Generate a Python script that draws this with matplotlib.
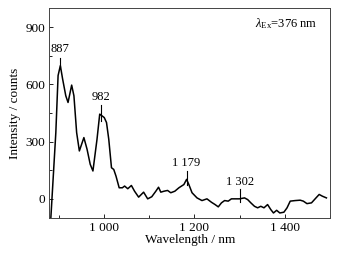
import matplotlib
matplotlib.use('Agg')
import matplotlib.pyplot as plt
from matplotlib.ticker import MultipleLocator, FuncFormatter

plt.rcParams['font.family'] = ['Liberation Serif', 'DejaVu Serif']
plt.rcParams['mathtext.fontset'] = 'custom'
plt.rcParams['mathtext.rm'] = 'Liberation Serif'
plt.rcParams['mathtext.it'] = 'Liberation Serif:italic'

# spectrum
wavelength = [883, 894, 899, 904, 909, 916, 921, 929, 934, 940, 946, 956, 963,
              970, 976, 985, 991, 996, 1001, 1006, 1011, 1017, 1022, 1027,
              1034, 1041, 1046, 1053, 1061, 1068, 1077, 1088, 1097, 1106,
              1115, 1121, 1126, 1133, 1141, 1148, 1157, 1166, 1177, 1183,
              1188, 1195, 1206, 1217, 1228, 1238, 1246, 1253, 1260, 1267,
              1275, 1282, 1291, 1300, 1311, 1318, 1325, 1333, 1340, 1347,
              1354, 1362, 1369, 1375, 1382, 1389, 1398, 1405, 1412, 1423,
              1434, 1441, 1449, 1459, 1469, 1476, 1483, 1492]
intensity = [-100, 347, 646, 698, 628, 540, 505, 596, 540, 347, 251, 321, 260,
             181, 146, 312, 444, 435, 426, 400, 312, 163, 154, 119,
             58, 58, 67, 53, 70, 40, 9, 35, 0, 11,
             40, 61, 35, 40, 44, 32, 40, 58, 75, 102,
             75, 32, 5, -9, 0, -18, -30, -42, -21, -9,
             -12, 0, 0, 0, 5, -4, -21, -39, -47, -39,
             -47, -30, -56, -74, -60, -74, -70, -47, -12, -9,
             -7, -12, -25, -21, 5, 23, 14, 5]

# peak marks: position, marker bottom/top, label text, label height
peak_x = [904, 994, 1183, 1301]
peak_lo = [690, 409, 75, -18]
peak_hi = [740, 491, 146, 49]
peak_text = ['887', '982', '1 179', '1 302']
peak_text_y = [752, 502, 155, 58]

fig = plt.figure(figsize=(3.52, 2.54), dpi=100)
ax = fig.add_axes([0.1406, 0.142, 0.797, 0.8265])

ax.plot(wavelength, intensity, color='black', linewidth=1.1)

for x, lo, hi, t, ty in zip(peak_x, peak_lo, peak_hi, peak_text, peak_text_y):
    ax.plot([x, x], [lo, hi], color='black', linewidth=0.8)
    ax.text(x, ty, t, ha='center', va='bottom', fontsize=9)

ax.text(0.955, 0.925, r'$\lambda_{\mathrm{Ex}}$=376 nm', transform=ax.transAxes,
        ha='right', va='center', fontsize=9)

ax.set_xlim(880, 1500)
ax.set_ylim(-100, 1000)
ax.xaxis.set_major_locator(MultipleLocator(200))
ax.xaxis.set_minor_locator(MultipleLocator(100))
ax.yaxis.set_major_locator(MultipleLocator(300))
ax.yaxis.set_minor_locator(MultipleLocator(150))
ax.xaxis.set_major_formatter(FuncFormatter(lambda v, p: f'{int(v):,}'.replace(',', ' ')))
ax.tick_params(which='both', direction='in', labelsize=9.5, width=0.6)
ax.tick_params(which='major', length=3)
ax.tick_params(which='minor', length=2)
ax.tick_params(axis='x', pad=3)
ax.tick_params(axis='y', pad=3)

for s in ax.spines.values():
    s.set_linewidth(0.7)
    s.set_color('#444444')

ax.set_xlabel('Wavelength / nm', fontsize=9.5, labelpad=0)
ax.set_ylabel('Intensity / counts', fontsize=9.5, labelpad=3)

fig.savefig('out.png', dpi=100)
